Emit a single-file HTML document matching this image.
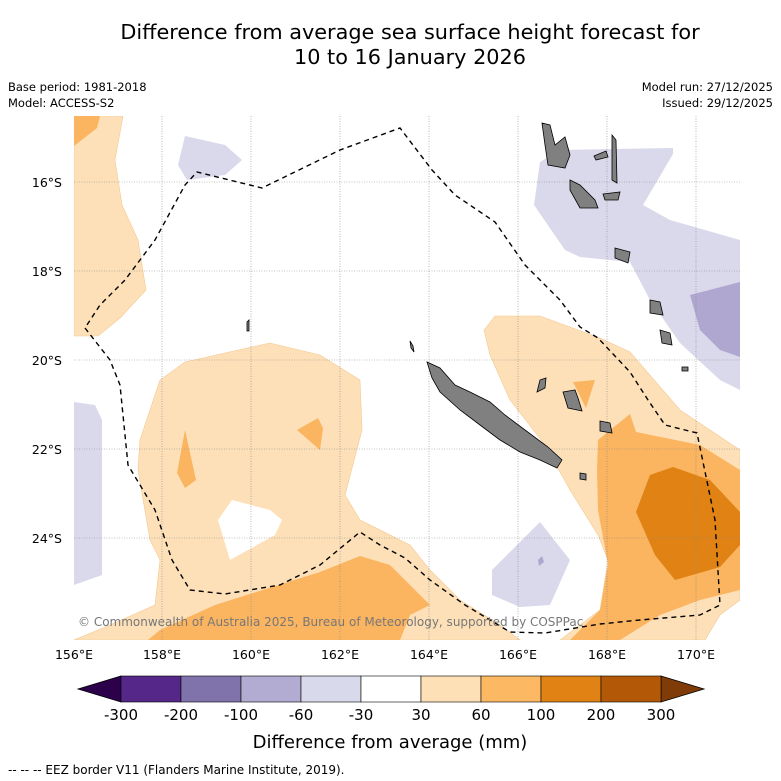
<!DOCTYPE html>
<html><head><meta charset="utf-8"><style>
body{margin:0;background:#fff;font-family:"DejaVu Sans","Liberation Sans",sans-serif}
svg{display:block}
</style></head><body>
<svg width="781" height="781" viewBox="0 0 781 781" xmlns="http://www.w3.org/2000/svg">
<rect width="781" height="781" fill="#fff"/>
<g font-family="DejaVu Sans, Liberation Sans, sans-serif" fill="#000">
<text x="410" y="39" font-size="20.8" text-anchor="middle">Difference from average sea surface height forecast for</text>
<text x="410" y="64" font-size="20.8" text-anchor="middle">10 to 16 January 2026</text>
<text x="8" y="91" font-size="11.5">Base period: 1981-2018</text>
<text x="8" y="107" font-size="11.5">Model: ACCESS-S2</text>
<text x="773" y="91" font-size="11.5" text-anchor="end">Model run: 27/12/2025</text>
<text x="773" y="107" font-size="11.5" text-anchor="end">Issued: 29/12/2025</text>
</g>
<defs><clipPath id="mc"><rect x="74" y="116" width="666" height="524"/></clipPath></defs>
<g clip-path="url(#mc)">
<g stroke-width="0.6">
<polygon fill="#fde0b8" stroke="#f5c890" points="74,116 123,116 115,160 122,205 138,240 146,290 120,318 98,336 74,336"/>
<polygon fill="#fbb45f" points="74,116 100,116 97,128 74,146"/>
<polygon fill="#fde0b8" stroke="#f5c890" points="140,440 160,380 185,362 270,343 320,355 360,380 362,430 345,495 360,520 410,545 430,570 460,600 500,625 520,640 74,640 110,625 155,605 160,560 150,540 138,470"/>
<polygon fill="#fff" points="232,500 270,510 282,520 275,535 230,560 218,520"/>
<polygon fill="#fbb45f" points="185,430 196,480 185,488 177,473"/>
<polygon fill="#fbb45f" points="297,430 318,418 323,428 320,450"/>
<polygon fill="#fbb45f" points="148,640 160,630 215,605 320,572 360,556 390,565 430,605 410,615 400,640"/>
<polygon fill="#fde0b8" stroke="#f5c890" points="484,330 495,316 540,316 600,338 630,352 680,410 740,450 740,600 720,615 705,640 560,640 600,610 608,560 598,535 570,490 545,445 510,400 490,355"/>
<polygon fill="#fbb45f" points="598,440 630,414 636,432 700,445 740,470 740,590 700,600 660,615 620,640 570,640 600,610 608,565 598,510 597,470"/>
<polygon fill="#fbb45f" points="573,382 595,380 586,408"/>
<polygon fill="#e08214" points="650,475 673,467 710,480 740,512 740,545 720,567 675,580 655,555 636,512"/>
<polygon fill="#d9d9eb" points="185,136 225,145 242,160 225,175 187,180 178,165"/>
<polygon fill="#d9d9eb" points="540,162 560,150 673,148 673,154 643,205 670,220 740,240 740,390 720,380 680,343 650,300 630,262 580,257 565,250 534,205"/>
<polygon fill="#d9d9eb" points="74,402 95,405 102,420 102,575 74,585"/>
<polygon fill="#d9d9eb" points="492,570 540,522 570,560 550,605 520,607 492,595"/>
<polygon fill="#b0a7d1" points="690,295 740,282 740,357 720,350 700,330"/>
<polygon fill="#b0a7d1" points="538,560 542,556 544,562 539,566"/>
</g>
<g stroke="#888" stroke-width="0.6" stroke-dasharray="1,1.5">
<line x1="162" y1="116" x2="162" y2="640"/><line x1="251" y1="116" x2="251" y2="640"/><line x1="340" y1="116" x2="340" y2="640"/><line x1="429" y1="116" x2="429" y2="640"/><line x1="518" y1="116" x2="518" y2="640"/><line x1="607" y1="116" x2="607" y2="640"/><line x1="696" y1="116" x2="696" y2="640"/>
<line x1="74" y1="182" x2="740" y2="182"/><line x1="74" y1="271" x2="740" y2="271"/><line x1="74" y1="360" x2="740" y2="360"/><line x1="74" y1="449" x2="740" y2="449"/><line x1="74" y1="538" x2="740" y2="538"/>
</g>
<g fill="#808080" stroke="#000" stroke-width="0.8">
<polygon points="427,362 440,368 455,385 470,392 490,402 505,415 525,430 548,447 562,460 557,468 540,460 520,452 500,440 480,425 460,410 440,392 432,378"/>
<polygon points="542,123 550,125 555,145 565,137 570,155 565,168 548,165 545,145"/>
<polygon points="570,180 580,185 595,200 598,208 580,208 570,190"/>
<polygon points="612,135 616,140 617,183 612,180"/>
<polygon points="594,156 606,151 608,157 596,160"/>
<polygon points="603,194 620,192 618,200 605,200"/>
<polygon points="615,248 630,252 628,263 615,258"/>
<polygon points="650,300 660,302 663,315 650,313"/>
<polygon points="660,330 670,333 672,345 662,343"/>
<polygon points="563,392 575,390 578,398 582,411 568,408"/>
<polygon points="600,421 610,423 612,433 600,431"/>
<polygon points="580,473 586,474 586,480 580,479"/>
<polygon points="682,367 688,367 688,371 682,371"/>
<polygon points="247,322 249,320 249,331 247,331"/>
<polygon points="540,380 546,378 545,388 537,392"/>
<polygon points="410,341 413,346 414,352 411,348"/>
</g>
<polyline fill="none" stroke="#000" stroke-width="1.4" stroke-dasharray="5,4" points="85,328 110,360 120,385 128,465 155,510 172,560 190,590 225,594 280,585 320,565 360,532 380,545 405,558 430,580 465,605 510,632 545,633 600,624 640,620 700,615 720,605 715,520 697,433 665,425 648,400 630,372 598,338 580,327 560,300 525,265 495,222 455,195 432,170 400,128 340,150 262,188 197,172 185,185 155,240 125,280 100,305 85,328"/>
<text x="78" y="626" font-size="12" fill="#777" font-family="DejaVu Sans, Liberation Sans, sans-serif">© Commonwealth of Australia 2025, Bureau of Meteorology, supported by COSPPac</text>
</g>
<g font-family="DejaVu Sans, Liberation Sans, sans-serif" font-size="12.5">
<text x="62" y="187" text-anchor="end">16°S</text><text x="62" y="276" text-anchor="end">18°S</text><text x="62" y="365" text-anchor="end">20°S</text><text x="62" y="454" text-anchor="end">22°S</text><text x="62" y="543" text-anchor="end">24°S</text>
<text x="74" y="659" text-anchor="middle">156°E</text><text x="162" y="659" text-anchor="middle">158°E</text><text x="251" y="659" text-anchor="middle">160°E</text><text x="340" y="659" text-anchor="middle">162°E</text><text x="429" y="659" text-anchor="middle">164°E</text><text x="518" y="659" text-anchor="middle">166°E</text><text x="607" y="659" text-anchor="middle">168°E</text><text x="696" y="659" text-anchor="middle">170°E</text>
</g>
<g id="cbar"></g>
<text x="390" y="748" font-size="18" text-anchor="middle" font-family="DejaVu Sans, Liberation Sans, sans-serif">Difference from average (mm)</text>
<text x="8" y="774" font-size="12" font-family="DejaVu Sans, Liberation Sans, sans-serif">-- -- -- EEZ border V11 (Flanders Marine Institute, 2019).</text>
</svg>
<script>
const levels = ["-300","-200","-100","-60","-30","30","60","100","200","300"];
const colors = ["#542788","#8073ac","#b2abd2","#d8daeb","#ffffff","#fee0b6","#fdb863","#e08214","#b35806"];
const extendColors = ["#2d004b","#7f3b08"];
const NS = "http://www.w3.org/2000/svg";
const g = document.getElementById("cbar");
const x0 = 121, x1 = 661, yT = 676, yB = 702;
const w = (x1 - x0) / colors.length;
function mk(t, attrs){const e=document.createElementNS(NS,t);for(const k in attrs)e.setAttribute(k,attrs[k]);g.appendChild(e);return e;}
const lt = mk("polygon",{points:`${x0},${yT} 78,${(yT+yB)/2} ${x0},${yB}`,fill:extendColors[0],stroke:"#000","stroke-width":0.8});


const rt = mk("polygon",{points:`${x1},${yT} 704,${(yT+yB)/2} ${x1},${yB}`,fill:extendColors[1],stroke:"#000","stroke-width":0.8});


colors.forEach((c,i)=>{
  const r = mk("rect",{x:x0+i*w,y:yT,width:w,height:yB-yT,fill:c,stroke:"#000","stroke-width":0.6});
  
  
});
levels.forEach((l,i)=>{
  const t = mk("text",{x:x0+i*w,y:720,"text-anchor":"middle","font-size":15,"font-family":"DejaVu Sans, Liberation Sans, sans-serif"});
  t.textContent = l;
  
  
});
</script>
</body></html>
